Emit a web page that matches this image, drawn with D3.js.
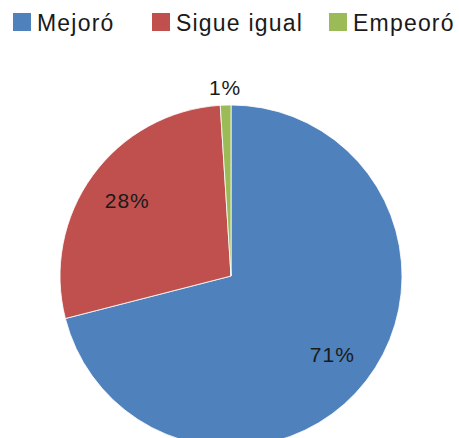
<!DOCTYPE html>
<html lang="es">
<head>
  <meta charset="UTF-8">
  <title>Mejoró / Sigue igual / Empeoró</title>
  <script src="https://d3js.org/d3.v7.min.js"></script>
  <style>
    body { margin: 0; background: white; }
    svg { display: block; font-family: "Liberation Sans", "Noto Sans", sans-serif; }
    .legend text { font-size: 23px; fill: #1a1a1a; letter-spacing: 1.2px; }
    .label { font-size: 21px; fill: #1a1a1a; letter-spacing: 1px; }
  </style>
</head>
<body>
  <div id="chart"></div>
  <script>
    // datos
    const categories = ["Mejoró", "Sigue igual", "Empeoró"];
    const values = [71, 28, 1];
    const labels = ["71%", "28%", "1%"];
    const colors = ["#4F81BD", "#C0504D", "#9BBB59"];

    const width = 459, height = 438;
    const cx = 231, cy = 276, radius = 171;

    const svg = d3.select("#chart")
      .append("svg")
      .attr("width", width)
      .attr("height", height);

    const pie = d3.pie().sort(null).value(d => d)(values);
    const arc = d3.arc().innerRadius(0).outerRadius(radius);

    const g = svg.append("g").attr("transform", `translate(${cx},${cy})`);

    g.selectAll("path")
      .data(pie)
      .join("path")
      .attr("d", arc)
      .attr("fill", (d, i) => colors[i])
      .attr("stroke", "white")
      .attr("stroke-width", 0.8);

    // etiquetas: dentro para las grandes, fuera para la pequeña
    g.selectAll("text.label")
      .data(pie)
      .join("text")
      .attr("class", "label")
      .attr("text-anchor", "middle")
      .attr("dy", "0.35em")
      .attr("transform", d => {
        const r = d.data < 5 ? radius * 1.1 : radius * 0.75;
        const a = (d.startAngle + d.endAngle) / 2;
        return `translate(${Math.sin(a) * r},${-Math.cos(a) * r})`;
      })
      .text((d, i) => labels[i]);

    // leyenda
    const legendX = [13, 152, 329];
    const legend = svg.append("g").attr("class", "legend");
    categories.forEach((c, i) => {
      const item = legend.append("g").attr("transform", `translate(${legendX[i]},13)`);
      item.append("rect")
        .attr("width", 18)
        .attr("height", 18)
        .attr("fill", colors[i]);
      item.append("text")
        .attr("x", 24)
        .attr("y", 18)
        .text(c);
    });
  </script>
</body>
</html>
